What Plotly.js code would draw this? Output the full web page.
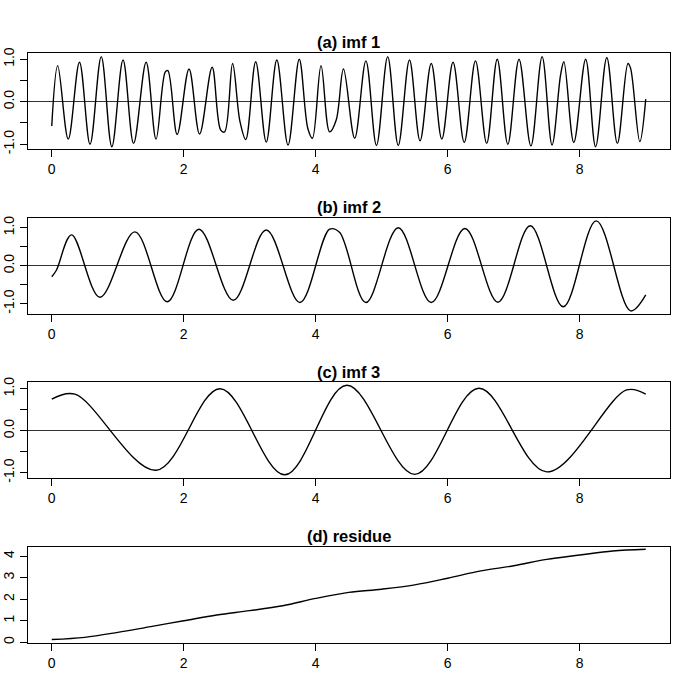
<!DOCTYPE html>
<html>
<head>
<meta charset="utf-8">
<script src="https://cdn.plot.ly/plotly-3.0.1.min.js"></script>
<style>html,body{margin:0;padding:0;background:#fff;}#chart{width:685px;height:685px;}</style>
</head>
<body>
<div id="chart"></div>
<script>
// ---- data ----
var panelTitles = ["(a) imf 1", "(b) imf 2", "(c) imf 3", "(d) residue"];
var xTickVals = [0, 2, 4, 6, 8];

var imf1X = [0, 0.09, 0.25, 0.42, 0.58, 0.75, 0.91, 1.08, 1.24, 1.43, 1.58, 1.72, 1.76, 1.90, 2.08, 2.24, 2.43, 2.56, 2.62, 2.74, 2.85, 2.94, 3.09, 3.25, 3.41, 3.58, 3.75, 3.88, 3.95, 4.08, 4.21, 4.31, 4.42, 4.59, 4.76, 4.92, 5.09, 5.25, 5.42, 5.58, 5.75, 5.91, 6.08, 6.25, 6.42, 6.59, 6.75, 6.91, 7.08, 7.26, 7.43, 7.58, 7.71, 7.76, 7.91, 8.09, 8.24, 8.41, 8.57, 8.73, 8.77, 8.91, 9.0];
var imf1Y = [-0.57, 0.85, -0.88, 0.93, -1.00, 1.06, -1.06, 0.98, -0.98, 0.93, -0.88, 0.70, 0.73, -0.77, 0.77, -0.76, 0.81, -0.67, -0.71, 0.90, -0.45, -0.89, 0.94, -0.95, 0.98, -1.02, 1.00, -0.63, -0.86, 0.85, -0.71, -0.43, 0.77, -0.86, 0.96, -1.03, 1.06, -1.03, 0.98, -0.92, 0.90, -0.88, 0.93, -0.96, 0.96, -0.98, 1.00, -1.00, 1.00, -1.04, 1.06, -1.02, 0.63, 0.94, -0.96, 1.00, -1.06, 1.04, -0.98, 0.90, 0.79, -0.94, 0.06];

var imf2X = [0, 0.07, 0.30, 0.73, 1.26, 1.75, 2.23, 2.75, 3.25, 3.76, 4.21, 4.36, 4.76, 5.25, 5.75, 6.26, 6.76, 7.25, 7.75, 8.25, 8.77, 9.0];
var imf2Y = [-0.29, -0.12, 0.81, -0.83, 0.89, -0.95, 0.96, -0.91, 0.94, -0.97, 0.96, 0.88, -0.97, 1.00, -0.97, 0.98, -0.96, 1.05, -1.08, 1.18, -1.19, -0.77];

var imf3X = [0, 0.35, 1.58, 2.55, 3.53, 4.47, 5.50, 6.47, 7.50, 8.71, 9.0];
var imf3Y = [0.75, 0.87, -0.94, 1.00, -1.05, 1.08, -1.04, 1.01, -0.98, 0.97, 0.87];

var residueX = [0, 0.5, 1, 1.5, 2, 2.5, 3, 3.5, 4, 4.5, 5, 5.5, 6, 6.5, 7, 7.5, 8, 8.5, 9];
var residueY = [0.13, 0.23, 0.46, 0.73, 1.00, 1.27, 1.47, 1.70, 2.04, 2.32, 2.47, 2.67, 2.98, 3.32, 3.56, 3.86, 4.06, 4.25, 4.33];

var imfYTickVals = [-1, -0.5, 0, 0.5, 1];
var imfYTickText = ["-1.0", "", "0.0", "", "1.0"];
var resYTickVals = [0, 1, 2, 3, 4];
var resYTickText = ["0", "1", "2", "3", "4"];

// ---- layout geometry ----
var W = 685, H = 685;
var boxes = [[53.3, 149.3], [217.7, 314.0], [382.3, 478.3], [546.7, 642.7]];
var titleY = [42, 207, 371.5, 535.5];
var yRanges = [[-1.12, 1.139], [-1.271, 1.263], [-1.133, 1.152], [-0.02, 4.447]];
var xDom = [28 / W, 669.5 / W];
var FONT = "Liberation Sans, Arial, Helvetica, sans-serif";

var series = [[imf1X, imf1Y], [imf2X, imf2Y], [imf3X, imf3Y], [residueX, residueY]];
var traces = [];
var layout = {
  width: W, height: H,
  margin: {l: 0, r: 0, t: 0, b: 0},
  paper_bgcolor: "#fff", plot_bgcolor: "#fff",
  showlegend: false,
  font: {family: FONT, color: "#000", size: 14},
  annotations: []
};

for (var i = 0; i < 4; i++) {
  var sfx = i === 0 ? "" : String(i + 1);
  traces.push({
    x: series[i][0], y: series[i][1],
    xaxis: "x" + sfx, yaxis: "y" + sfx,
    type: "scatter", mode: "lines",
    line: {color: "#000", width: 1.4, shape: "spline", smoothing: 1},
    hoverinfo: "skip"
  });
  var dom = [1 - boxes[i][1] / H, 1 - boxes[i][0] / H];
  layout["xaxis" + sfx] = {
    domain: xDom, anchor: "y" + sfx, range: [-0.36, 9.36],
    tickmode: "array", tickvals: xTickVals, ticktext: xTickVals.map(String),
    ticks: "outside", ticklen: 7, tickwidth: 1, tickcolor: "#000",
    showline: true, mirror: true, linecolor: "#000", linewidth: 1,
    showgrid: false, zeroline: false,
    tickfont: {family: FONT, size: 14, color: "#000"}
  };
  var isRes = i === 3;
  layout["yaxis" + sfx] = {
    domain: dom, anchor: "x" + sfx, range: yRanges[i],
    tickmode: "array",
    tickvals: isRes ? resYTickVals : imfYTickVals,
    ticktext: isRes ? resYTickText : imfYTickText,
    tickangle: -90,
    ticks: "outside", ticklen: 7, tickwidth: 1, tickcolor: "#000",
    showline: true, mirror: true, linecolor: "#000", linewidth: 1,
    showgrid: false,
    zeroline: !isRes, zerolinecolor: "#333", zerolinewidth: 1.3,
    tickfont: {family: FONT, size: 14, color: "#000"}
  };
  layout.annotations.push({
    text: "<b>" + panelTitles[i] + "</b>",
    xref: "paper", yref: "paper",
    x: (xDom[0] + xDom[1]) / 2, y: 1 - titleY[i] / H,
    xanchor: "center", yanchor: "middle", showarrow: false,
    font: {family: FONT, size: 16.5, color: "#000"}
  });
}

Plotly.newPlot("chart", traces, layout, {staticPlot: true, displayModeBar: false});
</script>
</body>
</html>
